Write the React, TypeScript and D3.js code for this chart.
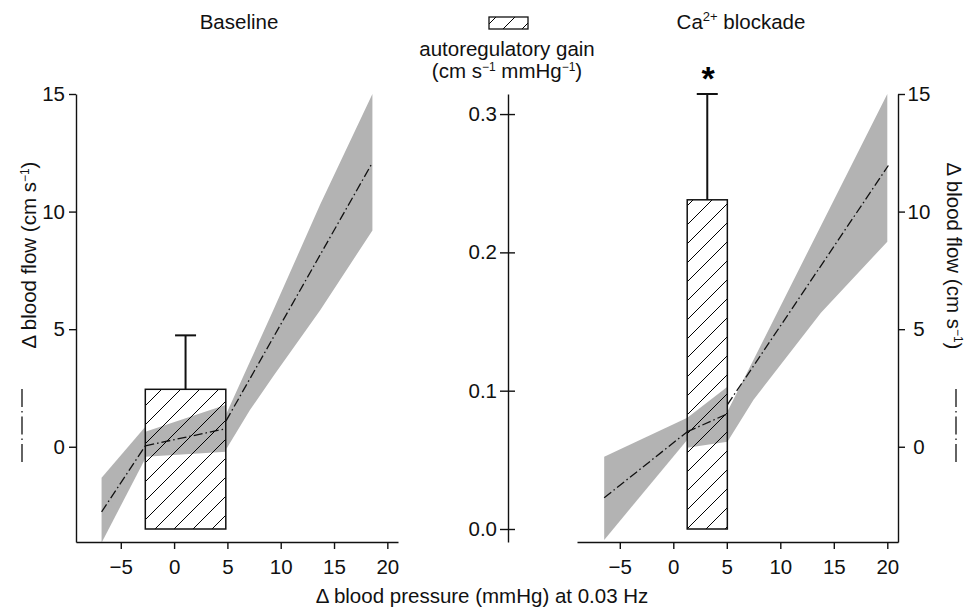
import React, { useEffect, useRef } from 'react';
import * as d3 from 'd3';

// blood pressure / blood flow ticks
const pressureTicks = [-5, 0, 5, 10, 15, 20];
const flowTicks = [0, 5, 10, 15];
const gainTicks = [0.0, 0.1, 0.2, 0.3];

// Baseline panel: three fitted segments, gray band = confidence interval
const baseBandX = [[-6.8, -2.7], [-2.7, 4.87], [4.9, 7.1, 9.3, 13.7, 18.6]];
const baseBandLo = [[-4.08, -0.5], [-0.43, -0.21], [-0.1, 1.55, 3.0, 5.8, 9.2]];
const baseBandHi = [[-1.32, 0.85], [0.64, 1.79], [1.4, 3.6, 5.8, 10.3, 15.0]];
const baseLineX = [[-6.8, -2.7], [-2.7, 4.87], [4.87, 18.6]];
const baseLineY = [[-2.77, 0.04], [0.04, 0.77], [1.1, 12.08]];

// Ca2+ blockade panel
const blockBandX = [[-6.46, 1.31], [1.31, 5.06], [5.06, 7.5, 13.8, 20.0]];
const blockBandLo = [[-3.96, 0.3], [-0.04, 0.21], [0.21, 2.0, 5.7, 8.72]];
const blockBandHi = [[-0.43, 1.23], [1.23, 2.55], [1.5, 3.7, 9.4, 15.0]];
const blockLineX = [[-6.46, 1.31], [1.31, 5.06], [5.06, 20.1]];
const blockLineY = [[-2.17, 0.64], [0.64, 1.4], [1.79, 11.96]];

// autoregulatory gain bars (mean, SE), bar extent in mmHg
const gainMean = [0.101, 0.238];
const gainSE = [0.039, 0.0765];
const barSpan = [[-2.7, 4.85], [1.3, 5.05]];

const FONT = "'Liberation Sans', Arial, Helvetica, sans-serif";
const FS = 20.5;

export default function App() {
  const ref = useRef<SVGSVGElement>(null);

  useEffect(() => {
    const svg = d3.select(ref.current);
    svg.selectAll('*').remove();

    const top = 94, bottom = 542;

    const defs = svg.append('defs');
    const pat = defs.append('pattern')
      .attr('id', 'hatch')
      .attr('patternUnits', 'userSpaceOnUse')
      .attr('width', 19)
      .attr('height', 19);
    pat.append('path')
      .attr('d', 'M-2,2 L2,-2 M0,19 L19,0 M17,21 L21,17')
      .attr('stroke', '#000')
      .attr('stroke-width', 1);

    // Scales
    const yFlow = d3.scaleLinear().domain([-4.05, 15]).range([bottom, top]);
    const yGain = d3.scaleLinear().domain([-0.0094, 0.3145]).range([bottom, top]);
    const xBase = d3.scaleLinear().domain([-9.2, 21]).range([76, 398]);
    const xBlock = d3.scaleLinear().domain([-9, 21]).range([577, 898]);

    function styleAxis(g) {
      g.attr('font-size', FS).attr('font-family', FONT);
      g.selectAll('path, line').attr('stroke', '#111').attr('stroke-width', 1.4);
      g.selectAll('text').attr('fill', '#111');
    }

    // panels
    const panels = [
      { x: xBase, bx: baseBandX, lo: baseBandLo, hi: baseBandHi, lx: baseLineX, ly: baseLineY },
      { x: xBlock, bx: blockBandX, lo: blockBandLo, hi: blockBandHi, lx: blockLineX, ly: blockLineY }
    ];

    panels.forEach(function(p, i) {
      const g = svg.append('g');

      // bands
      p.bx.forEach(function(xs, j) {
        const pts = xs.map(function(x, k) { return { x: x, lo: p.lo[j][k], hi: p.hi[j][k] }; });
        const area = d3.area()
          .x(function(d) { return p.x(d.x); })
          .y0(function(d) { return yFlow(d.lo); })
          .y1(function(d) { return yFlow(d.hi); });
        g.append('path').attr('d', area(pts)).attr('fill', '#b3b3b3');
      });

      // gain bar + error bar
      const x0 = p.x(barSpan[i][0]), x1 = p.x(barSpan[i][1]);
      g.append('rect')
        .attr('x', x0)
        .attr('y', yGain(gainMean[i]))
        .attr('width', x1 - x0)
        .attr('height', yGain(0) - yGain(gainMean[i]))
        .attr('fill', 'url(#hatch)')
        .attr('stroke', '#111')
        .attr('stroke-width', 1.5);
      const cx = (x0 + x1) / 2;
      const yTop = yGain(gainMean[i] + gainSE[i]);
      g.append('line')
        .attr('x1', cx).attr('x2', cx)
        .attr('y1', yGain(gainMean[i])).attr('y2', yTop)
        .attr('stroke', '#111').attr('stroke-width', 2);
      g.append('line')
        .attr('x1', cx - 10.5).attr('x2', cx + 10.5)
        .attr('y1', yTop).attr('y2', yTop)
        .attr('stroke', '#111').attr('stroke-width', 2);

      // dash-dot fit lines
      p.lx.forEach(function(xs, j) {
        const pts = xs.map(function(x, k) { return [p.x(x), yFlow(p.ly[j][k])]; });
        g.append('path')
          .attr('d', d3.line()(pts))
          .attr('fill', 'none')
          .attr('stroke', '#111')
          .attr('stroke-width', 1.3)
          .attr('stroke-dasharray', '9,3,1.5,3');
      });

      // x axis
      const xAxis = g.append('g')
        .attr('transform', 'translate(0,' + bottom + ')')
        .call(d3.axisBottom(p.x).tickValues(pressureTicks).tickSize(7).tickSizeOuter(0).tickPadding(10));
      styleAxis(xAxis);
    });

    // left flow axis
    const yLeft = svg.append('g')
      .attr('transform', 'translate(76,0)')
      .call(d3.axisLeft(yFlow).tickValues(flowTicks).tickSize(7).tickSizeOuter(0).tickPadding(4));
    styleAxis(yLeft);

    // right flow axis
    const yRight = svg.append('g')
      .attr('transform', 'translate(898,0)')
      .call(d3.axisRight(yFlow).tickValues(flowTicks).tickSize(7).tickSizeOuter(0));
    styleAxis(yRight);
    yRight.selectAll('text').attr('text-anchor', 'middle').attr('x', 21);

    // center gain axis, ticks crossing the line
    const yMid = svg.append('g')
      .attr('transform', 'translate(508,0)')
      .call(d3.axisLeft(yGain).tickValues(gainTicks).tickSize(8).tickSizeOuter(0).tickPadding(3)
        .tickFormat(d3.format('.1f')));
    styleAxis(yMid);
    yMid.selectAll('.tick line').attr('x1', 7).attr('x2', -8);

    // asterisk
    svg.append('text')
      .attr('x', 708).attr('y', 90)
      .attr('text-anchor', 'middle')
      .attr('font-family', FONT).attr('font-size', 34).attr('font-weight', 'bold')
      .text('*');

    // titles & labels
    const txt = svg.append('g').attr('font-family', FONT).attr('font-size', FS).attr('fill', '#111');

    txt.append('text').attr('x', 239).attr('y', 29).attr('text-anchor', 'middle').text('Baseline');

    const ca = txt.append('text').attr('x', 741).attr('y', 29).attr('text-anchor', 'middle');
    ca.append('tspan').text('Ca');
    ca.append('tspan').attr('font-size', 13).attr('dy', -8).text('2+');
    ca.append('tspan').attr('dy', 8).text(' blockade');

    // legend box
    svg.append('rect')
      .attr('x', 489).attr('y', 17).attr('width', 39).attr('height', 12)
      .attr('fill', 'url(#hatch)').attr('stroke', '#111').attr('stroke-width', 1.3);

    txt.append('text').attr('x', 507).attr('y', 56).attr('text-anchor', 'middle').text('autoregulatory gain');
    const unit = txt.append('text').attr('x', 507).attr('y', 78).attr('text-anchor', 'middle');
    unit.append('tspan').text('(cm s');
    unit.append('tspan').attr('font-size', 12).attr('dy', -7).text('\u22121');
    unit.append('tspan').attr('dy', 7).text(' mmHg');
    unit.append('tspan').attr('font-size', 12).attr('dy', -7).text('\u22121');
    unit.append('tspan').attr('dy', 7).text(')');

    txt.append('text').attr('x', 482).attr('y', 603).attr('text-anchor', 'middle')
      .text('\u0394 blood pressure (mmHg) at 0.03 Hz');

    function flowLabel(x, y, rot) {
      const t = txt.append('text')
        .attr('transform', 'translate(' + x + ',' + y + ') rotate(' + rot + ')')
        .attr('text-anchor', 'middle');
      t.append('tspan').text('\u0394 blood flow (cm s');
      t.append('tspan').attr('font-size', 12).attr('dy', -7).text('\u22121');
      t.append('tspan').attr('dy', 7).text(')');
    }
    flowLabel(36, 255, -90);
    flowLabel(947, 256, 90);

    // line legend next to the flow labels
    [22, 956].forEach(function(lx) {
      svg.append('line')
        .attr('x1', lx).attr('x2', lx)
        .attr('y1', 389).attr('y2', 466)
        .attr('stroke', '#111').attr('stroke-width', 1.3)
        .attr('stroke-dasharray', '18,4,1.5,4');
    });
  }, []);

  return (
    <svg
      ref={ref}
      width={967}
      height={609}
      style={{ position: 'absolute', left: 0, top: 0, background: '#fff' }}
    />
  );
}
